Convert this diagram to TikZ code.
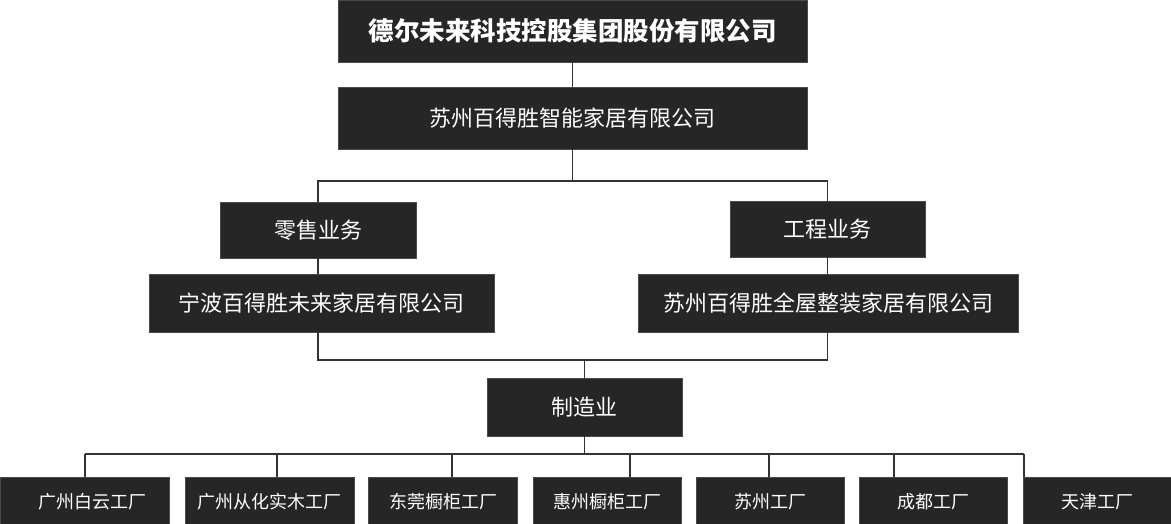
\documentclass[tikz,border=0pt]{standalone}
\usepackage{fontspec}
\newfontfamily\cjk{Noto Sans CJK SC}
\definecolor{boxfill}{HTML}{262626}
\definecolor{boxedge}{HTML}{4A4A4A}
\definecolor{wire}{HTML}{333333}
\begin{document}
\begin{tikzpicture}[x=1pt,y=-1pt,
	unit/.style={fill=boxfill,draw=boxedge,line width=0.6pt,text=white,inner sep=0pt,font=\cjk\fontsize{22pt}{26pt}\selectfont},
	plant/.style={unit,minimum height=50pt,font=\cjk\fontsize{18pt}{22pt}\selectfont},
	link/.style={draw=wire,line width=1.6pt}]
	\useasboundingbox (0,0) rectangle (1171,524);
	\clip (0,0) rectangle (1171,524);
	
	\node[unit,minimum width=469pt,minimum height=62pt,font=\cjk\bfseries\fontsize{25.5pt}{30pt}\selectfont] (top) at (572.5,31) {德尔未来科技控股集团股份有限公司};
	\node[unit,minimum width=469pt,minimum height=62pt] (sub) at (572.5,118) {苏州百得胜智能家居有限公司};
	\node[unit,minimum width=196pt,minimum height=56pt] (retail) at (318,230) {零售业务};
	\node[unit,minimum width=195pt,minimum height=56pt] (eng) at (827.5,229) {工程业务};
	\node[unit,minimum width=345pt,minimum height=58pt] (nb) at (321.5,303) {宁波百得胜未来家居有限公司};
	\node[unit,minimum width=380pt,minimum height=58pt] (sz) at (828,303) {苏州百得胜全屋整装家居有限公司};
	\node[unit,minimum width=195pt,minimum height=58pt] (mfg) at (584.5,407) {制造业};
	\foreach \n/\cx/\w/\nhan in {1/84.5/169/\hspace*{17pt}广州白云工厂,2/269.5/169/广州从化实木工厂,3/443/148.5/东莞橱柜工厂,4/607/148/惠州橱柜工厂,5/770/148/苏州工厂,6/933/148/成都工厂,7/1097.5/148/天津工厂}
	\node[plant,minimum width=\w pt] (b\n) at (\cx,502) {\nhan};
	
	\coordinate (hub)at(572.5,181);
	\coordinate (hub2)at(584.5,360);
	\foreach \n/\x in {1/85,2/277,3/452,4/630,5/769,6/894,7/1024}
	\coordinate (d\n)at(\x,454);
	
	\draw[link] (top.south)--(sub.north) (sub.south)--(hub);
	\draw[link] (retail.north)|-(hub)-|(eng.north);
	\draw[link] (retail.south)--(retail.south|-nb.north) (eng.south)--(eng.south|-sz.north);
	\draw[link] (retail.south|-nb.south)|-(hub2)-|(eng.south|-sz.south);
	\draw[link] (hub2)--(mfg.north) (mfg.south)--(mfg.south|-d1);
	\draw[link] (d1)--(d7);
	\foreach \n in {1,2,...,7}
	\draw[link] (d\n)--(d\n|-b\n.north);
\end{tikzpicture}
\end{document}
